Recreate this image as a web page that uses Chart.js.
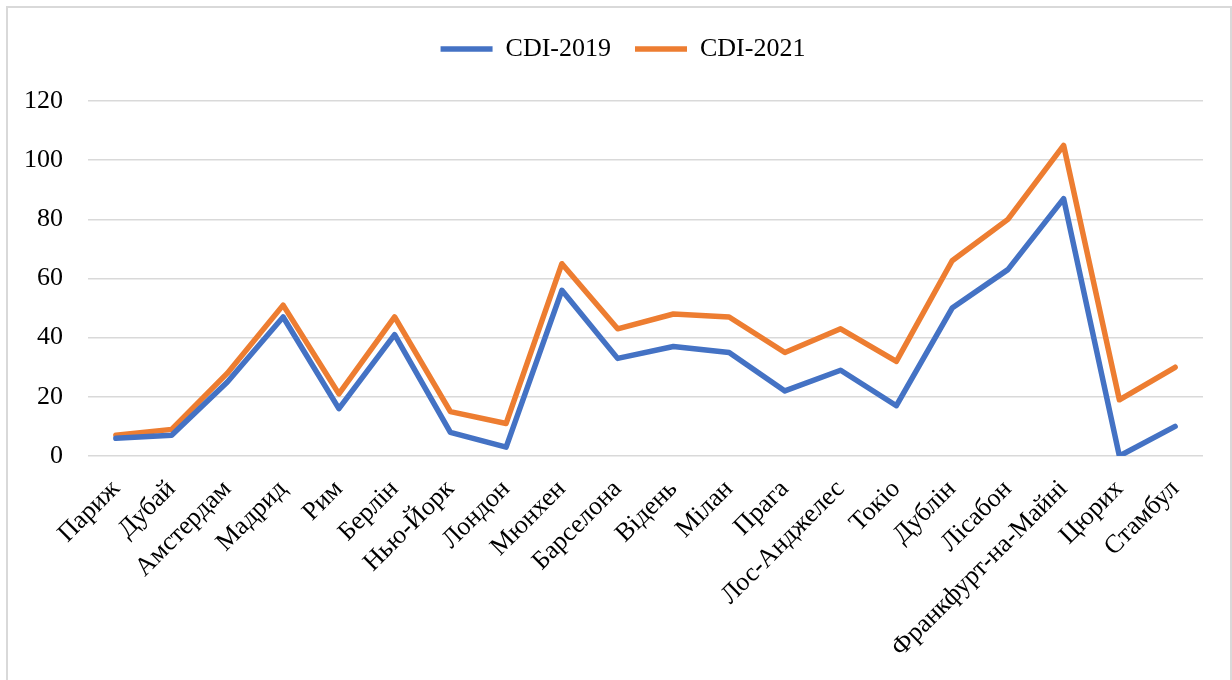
<!DOCTYPE html>
<html lang="uk">
<head>
    <meta charset="UTF-8">
    <title>CDI 2019 / 2021</title>
    <script src="https://cdn.jsdelivr.net/npm/chart.js"></script>
    <style>
        body { margin: 0; background: #fff; }
        #wrap { position: relative; width: 1232px; height: 680px; overflow: hidden; }
        #frame { position: absolute; left: 6px; top: 6px; width: 1222px; height: 700px; border: 2px solid #d9d9d9; }
        #chart-container { position: absolute; left: 0; top: 0; width: 1232px; height: 680px; }
    </style>
</head>
<body>
<div id="wrap">
    <div id="frame"></div>
    <div id="chart-container"><canvas id="cdiChart"></canvas></div>
</div>

<script>
    const cities = ['Париж', 'Дубай', 'Амстердам', 'Мадрид', 'Рим', 'Берлін', 'Нью-Йорк', 'Лондон',
        'Мюнхен', 'Барселона', 'Відень', 'Мілан', 'Прага', 'Лос-Анджелес', 'Токіо', 'Дублін',
        'Лісабон', 'Франкфурт-на-Майні', 'Цюрих', 'Стамбул'];
    const cdi2019 = [6, 7, 25, 47, 16, 41, 8, 3, 56, 33, 37, 35, 22, 29, 17, 50, 63, 87, 0, 10];
    const cdi2021 = [7, 9, 28, 51, 21, 47, 15, 11, 65, 43, 48, 47, 35, 43, 32, 66, 80, 105, 19, 30];
    const yTicks = [0, 20, 40, 60, 80, 100, 120];

    const serif = "'Liberation Serif', 'Times New Roman', serif";

    // empty axes, only used to reserve space around the plot
    const spacer = (size, horizontal) => ({
        display: true,
        grid: { display: false },
        border: { display: false },
        ticks: { display: false },
        afterFit: (scale) => { if (horizontal) scale.height = size; else scale.width = size; }
    });

    const ctx = document.getElementById('cdiChart').getContext('2d');
    new Chart(ctx, {
        type: 'line',
        data: {
            labels: cities,
            datasets: [
                { label: 'CDI-2019', data: cdi2019, borderColor: '#4472C4', backgroundColor: '#4472C4',
                  borderWidth: 5.5, pointRadius: 0, tension: 0, borderCapStyle: 'round', borderJoinStyle: 'round' },
                { label: 'CDI-2021', data: cdi2021, borderColor: '#ED7D31', backgroundColor: '#ED7D31',
                  borderWidth: 5.5, pointRadius: 0, tension: 0, borderCapStyle: 'round', borderJoinStyle: 'round' }
            ]
        },
        options: {
            responsive: true,
            maintainAspectRatio: false,
            animation: false,
            layout: { padding: { left: 14, right: 0, top: 12, bottom: 0 } },
            plugins: {
                legend: {
                    position: 'top',
                    labels: {
                        font: { family: serif, size: 26 },
                        color: '#000',
                        usePointStyle: true,
                        pointStyle: 'line',
                        pointStyleWidth: 52,
                        padding: 24
                    }
                },
                tooltip: { enabled: false }
            },
            scales: {
                x: {
                    offset: true,
                    grid: { display: false },
                    border: { display: false },
                    ticks: {
                        autoSkip: false, maxRotation: 45, minRotation: 45, padding: 10,
                        color: '#000', font: { family: serif, size: 26 }
                    },
                    afterFit: (scale) => { scale.height = 224; }
                },
                y: {
                    min: 0, max: 120,
                    afterBuildTicks: (scale) => { scale.ticks = yTicks.map(v => ({ value: v })); },
                    grid: { color: '#d9d9d9', lineWidth: 1.5, drawTicks: false },
                    border: { display: false },
                    ticks: { padding: 25, color: '#000', font: { family: serif, size: 26 } },
                    afterFit: (scale) => { scale.width = 74; }
                },
                topGap: Object.assign({ type: 'linear', position: 'top' }, spacer(29, true)),
                rightGap: Object.assign({ type: 'linear', position: 'right' }, spacer(29, false))
            }
        }
    });
</script>
</body>
</html>
